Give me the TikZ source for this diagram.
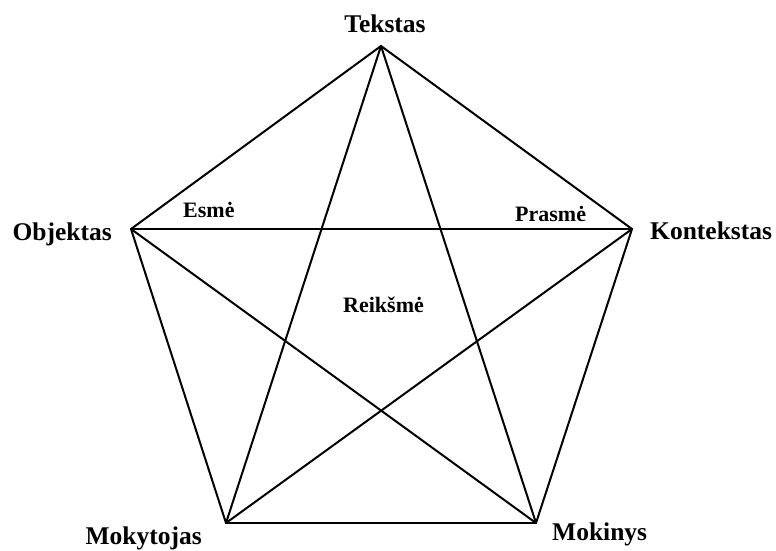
\documentclass[tikz,border=0pt]{standalone}
\usepackage{fontspec}
\setmainfont{Liberation Serif}

\begin{document}
\begin{tikzpicture}[
        x=1pt, y=-1pt,
        corner/.style={font=\fontsize{25.5}{30}\selectfont\bfseries, inner sep=0pt},
        inner/.style={font=\fontsize{22}{26}\selectfont\bfseries, inner sep=0pt},
        link/.style={draw=black, line width=2pt, line cap=round}
    ]
        \useasboundingbox (0,0) rectangle (776,550);

        \coordinate (tekstas) at (381,46);
        \coordinate (objektas) at (131,229);
        \coordinate (kontekstas) at (632,229);
        \coordinate (mokytojas) at (226,523);
        \coordinate (mokinys) at (536,523);

        \node[corner, anchor=base] (tekstaslabel) at (385,32) {Tekstas};
        \node[corner, anchor=base east] (objektaslabel) at (112,240) {Objektas};
        \node[corner, anchor=base west] (kontekstaslabel) at (650,239) {Kontekstas};
        \node[corner, anchor=base east] (mokytojaslabel) at (202,544) {Mokytojas};
        \node[corner, anchor=base west] (mokinyslabel) at (552,540) {Mokinys};

        \node[inner, anchor=base west] (esme) at (183,217) {Esmė};
        \node[inner, anchor=base west] (prasme) at (515,221) {Prasmė};
        \node[inner, anchor=base west] (reiksme) at (343,312) {Reikšmė};

        \draw[link] (tekstas) -- (kontekstas);
        \draw[link] (kontekstas) -- (mokinys);
        \draw[link] (mokinys) -- (mokytojas);
        \draw[link] (mokytojas) -- (objektas);
        \draw[link] (objektas) -- (tekstas);
        \draw[link] (tekstas) -- (mokytojas);
        \draw[link] (tekstas) -- (mokinys);
        \draw[link] (objektas) -- (kontekstas);
        \draw[link] (objektas) -- (mokinys);
        \draw[link] (kontekstas) -- (mokytojas);
    \end{tikzpicture}
\end{document}
